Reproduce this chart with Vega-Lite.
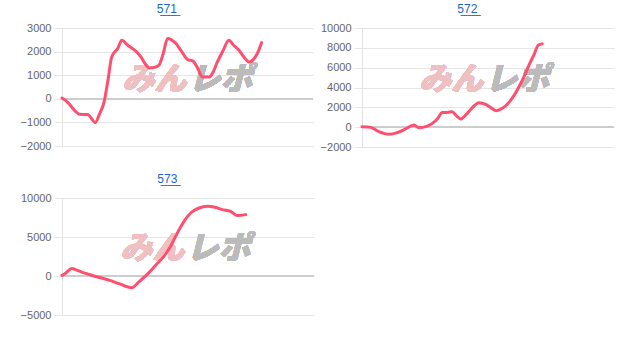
{
  "$schema": "https://vega.github.io/schema/vega-lite/v6.json",
  "padding": {"left": 20, "top": 3, "right": 0, "bottom": 0},
  "background": "white",
  "datasets": {
    "diffs": [
      {"machine": "571", "step": 0, "diff": 34},
      {"machine": "571", "step": 2.4, "diff": -160},
      {"machine": "571", "step": 5.0, "diff": -490},
      {"machine": "571", "step": 7.0, "diff": -660},
      {"machine": "571", "step": 10.3, "diff": -670},
      {"machine": "571", "step": 11.6, "diff": -810},
      {"machine": "571", "step": 13.2, "diff": -1010},
      {"machine": "571", "step": 15.0, "diff": -630},
      {"machine": "571", "step": 16.7, "diff": -160},
      {"machine": "571", "step": 18.3, "diff": 780},
      {"machine": "571", "step": 19.8, "diff": 1770},
      {"machine": "571", "step": 22.2, "diff": 2130},
      {"machine": "571", "step": 23.8, "diff": 2480},
      {"machine": "571", "step": 26.2, "diff": 2270},
      {"machine": "571", "step": 29.5, "diff": 2010},
      {"machine": "571", "step": 31.5, "diff": 1770},
      {"machine": "571", "step": 33.1, "diff": 1490},
      {"machine": "571", "step": 34.8, "diff": 1310},
      {"machine": "571", "step": 37.4, "diff": 1350},
      {"machine": "571", "step": 38.8, "diff": 1450},
      {"machine": "571", "step": 40.3, "diff": 1910},
      {"machine": "571", "step": 42.1, "diff": 2560},
      {"machine": "571", "step": 45.4, "diff": 2340},
      {"machine": "571", "step": 47.3, "diff": 2060},
      {"machine": "571", "step": 50.0, "diff": 1670},
      {"machine": "571", "step": 52.3, "diff": 1590},
      {"machine": "571", "step": 54.0, "diff": 1310},
      {"machine": "571", "step": 56.0, "diff": 920},
      {"machine": "571", "step": 58.6, "diff": 920},
      {"machine": "571", "step": 59.9, "diff": 1070},
      {"machine": "571", "step": 61.9, "diff": 1560},
      {"machine": "571", "step": 63.9, "diff": 1980},
      {"machine": "571", "step": 66.5, "diff": 2480},
      {"machine": "571", "step": 68.1, "diff": 2300},
      {"machine": "571", "step": 70.5, "diff": 2060},
      {"machine": "571", "step": 72.5, "diff": 1770},
      {"machine": "571", "step": 74.5, "diff": 1560},
      {"machine": "571", "step": 76.5, "diff": 1700},
      {"machine": "571", "step": 77.8, "diff": 1920},
      {"machine": "571", "step": 79.5, "diff": 2380},
      {"machine": "572", "step": 0, "diff": 50},
      {"machine": "572", "step": 3.5, "diff": -20},
      {"machine": "572", "step": 6.7, "diff": -450},
      {"machine": "572", "step": 10.7, "diff": -720},
      {"machine": "572", "step": 14.0, "diff": -550},
      {"machine": "572", "step": 17.3, "diff": -180},
      {"machine": "572", "step": 20.6, "diff": 220},
      {"machine": "572", "step": 22.6, "diff": -50},
      {"machine": "572", "step": 25.3, "diff": 50},
      {"machine": "572", "step": 27.9, "diff": 380},
      {"machine": "572", "step": 29.9, "diff": 830},
      {"machine": "572", "step": 31.9, "diff": 1490},
      {"machine": "572", "step": 33.8, "diff": 1490},
      {"machine": "572", "step": 35.8, "diff": 1560},
      {"machine": "572", "step": 37.4, "diff": 1160},
      {"machine": "572", "step": 39.2, "diff": 830},
      {"machine": "572", "step": 41.2, "diff": 1230},
      {"machine": "572", "step": 43.8, "diff": 1970},
      {"machine": "572", "step": 46.4, "diff": 2470},
      {"machine": "572", "step": 49.1, "diff": 2300},
      {"machine": "572", "step": 51.1, "diff": 1970},
      {"machine": "572", "step": 53.3, "diff": 1660},
      {"machine": "572", "step": 55.7, "diff": 1900},
      {"machine": "572", "step": 58.3, "diff": 2500},
      {"machine": "572", "step": 60.3, "diff": 3180},
      {"machine": "572", "step": 62.3, "diff": 4080},
      {"machine": "572", "step": 64.3, "diff": 5090},
      {"machine": "572", "step": 66.3, "diff": 6270},
      {"machine": "572", "step": 68.3, "diff": 7340},
      {"machine": "572", "step": 70.0, "diff": 8290},
      {"machine": "572", "step": 71.5, "diff": 8400},
      {"machine": "573", "step": 0, "diff": 80},
      {"machine": "573", "step": 1.7, "diff": 420},
      {"machine": "573", "step": 3.8, "diff": 970},
      {"machine": "573", "step": 6.1, "diff": 720},
      {"machine": "573", "step": 9.4, "diff": 330},
      {"machine": "573", "step": 12.7, "diff": 0},
      {"machine": "573", "step": 15.4, "diff": -220},
      {"machine": "573", "step": 18.7, "diff": -520},
      {"machine": "573", "step": 22.6, "diff": -980},
      {"machine": "573", "step": 27.7, "diff": -1500},
      {"machine": "573", "step": 30.6, "diff": -730},
      {"machine": "573", "step": 33.8, "diff": 200},
      {"machine": "573", "step": 37.2, "diff": 1390},
      {"machine": "573", "step": 40.5, "diff": 2540},
      {"machine": "573", "step": 43.1, "diff": 3820},
      {"machine": "573", "step": 45.8, "diff": 5530},
      {"machine": "573", "step": 48.4, "diff": 7010},
      {"machine": "573", "step": 51.1, "diff": 8080},
      {"machine": "573", "step": 54.4, "diff": 8720},
      {"machine": "573", "step": 57.7, "diff": 8930},
      {"machine": "573", "step": 60.3, "diff": 8850},
      {"machine": "573", "step": 63.6, "diff": 8510},
      {"machine": "573", "step": 66.9, "diff": 8290},
      {"machine": "573", "step": 69.6, "diff": 7750},
      {"machine": "573", "step": 72.9, "diff": 7870}
    ]
  },
  "spacing": 21,
  "vconcat": [
    {
      "spacing": 6,
      "hconcat": [
        {
          "title": "5\u03327\u03321\u0332",
          "width": 251,
          "height": 118,
          "data": {"name": "diffs"},
          "transform": [{"filter": "datum.machine === '571'"}],
          "resolve": {"axis": {"x": "independent", "y": "independent"}},
          "layer": [
            {
              "mark": {"type": "line", "color": "#ff4f6f", "strokeWidth": 3, "interpolate": "monotone", "opacity": 0},
              "encoding": {
                "x": {"field": "step", "type": "quantitative", "scale": {"domain": [0, 100], "nice": false}, "axis": null},
                "y": {"field": "diff", "type": "quantitative", "scale": {"domain": [-2000, 3000], "nice": false, "zero": false}, "axis": {"values": [-2000, -1000, 0, 1000, 2000, 3000], "labelColor": "#666666"}}
              }
            },
            {
              "mark": {"type": "rule", "color": "#cdcdcd", "strokeWidth": 1},
              "encoding": {"y": {"datum": 0, "type": "quantitative", "axis": null}}
            },
            {
              "mark": {"type": "text", "text": "みん", "align": "right", "baseline": "middle", "dx": -1, "font": "Noto Sans CJK JP", "fontWeight": 900, "fontStyle": "italic", "fontSize": 32, "fill": "#eec0c1"},
              "encoding": {"x": {"datum": 50, "type": "quantitative", "axis": null}, "y": {"datum": 780, "type": "quantitative", "axis": null}}
            },
            {
              "mark": {"type": "text", "text": "レポ", "align": "left", "baseline": "middle", "dx": 1, "font": "Noto Sans CJK JP", "fontWeight": 900, "fontStyle": "italic", "fontSize": 32, "fill": "#bbbbbb"},
              "encoding": {"x": {"datum": 50, "type": "quantitative", "axis": null}, "y": {"datum": 780, "type": "quantitative", "axis": null}}
            },
            {
              "mark": {"type": "line", "color": "#ff4f6f", "strokeWidth": 3, "interpolate": "monotone", "strokeCap": "round", "strokeJoin": "round"},
              "encoding": {
                "x": {"field": "step", "type": "quantitative", "axis": null},
                "y": {"field": "diff", "type": "quantitative", "axis": null}
              }
            }
          ]
        },
        {
          "title": "5\u03327\u03322\u0332",
          "width": 252,
          "height": 119,
          "data": {"name": "diffs"},
          "transform": [{"filter": "datum.machine === '572'"}],
          "resolve": {"axis": {"x": "independent", "y": "independent"}},
          "layer": [
            {
              "mark": {"type": "line", "color": "#ff4f6f", "strokeWidth": 3, "interpolate": "monotone", "opacity": 0},
              "encoding": {
                "x": {"field": "step", "type": "quantitative", "scale": {"domain": [0, 100], "nice": false}, "axis": null},
                "y": {"field": "diff", "type": "quantitative", "scale": {"domain": [-2000, 10000], "nice": false, "zero": false}, "axis": {"values": [-2000, 0, 2000, 4000, 6000, 8000, 10000], "labelColor": "#666666"}}
              }
            },
            {
              "mark": {"type": "rule", "color": "#cdcdcd", "strokeWidth": 1},
              "encoding": {"y": {"datum": 0, "type": "quantitative", "axis": null}}
            },
            {
              "mark": {"type": "text", "text": "みん", "align": "right", "baseline": "middle", "dx": -1, "font": "Noto Sans CJK JP", "fontWeight": 900, "fontStyle": "italic", "fontSize": 32, "fill": "#eec0c1"},
              "encoding": {"x": {"datum": 48.5, "type": "quantitative", "axis": null}, "y": {"datum": 4790, "type": "quantitative", "axis": null}}
            },
            {
              "mark": {"type": "text", "text": "レポ", "align": "left", "baseline": "middle", "dx": 1, "font": "Noto Sans CJK JP", "fontWeight": 900, "fontStyle": "italic", "fontSize": 32, "fill": "#bbbbbb"},
              "encoding": {"x": {"datum": 48.5, "type": "quantitative", "axis": null}, "y": {"datum": 4790, "type": "quantitative", "axis": null}}
            },
            {
              "mark": {"type": "line", "color": "#ff4f6f", "strokeWidth": 3, "interpolate": "monotone", "strokeCap": "round", "strokeJoin": "round"},
              "encoding": {
                "x": {"field": "step", "type": "quantitative", "axis": null},
                "y": {"field": "diff", "type": "quantitative", "axis": null}
              }
            }
          ]
        }
      ]
    },
    {
      "title": "5\u03327\u03323\u0332",
      "width": 252,
      "height": 117,
      "data": {"name": "diffs"},
      "transform": [{"filter": "datum.machine === '573'"}],
      "resolve": {"axis": {"x": "independent", "y": "independent"}},
      "layer": [
        {
          "mark": {"type": "line", "color": "#ff4f6f", "strokeWidth": 3, "interpolate": "monotone", "opacity": 0},
          "encoding": {
            "x": {"field": "step", "type": "quantitative", "scale": {"domain": [0, 100], "nice": false}, "axis": null},
            "y": {"field": "diff", "type": "quantitative", "scale": {"domain": [-5000, 10000], "nice": false, "zero": false}, "axis": {"values": [-5000, 0, 5000, 10000], "labelColor": "#666666"}}
          }
        },
        {
          "mark": {"type": "rule", "color": "#cdcdcd", "strokeWidth": 1},
          "encoding": {"y": {"datum": 0, "type": "quantitative", "axis": null}}
        },
        {
          "mark": {"type": "text", "text": "みん", "align": "right", "baseline": "middle", "dx": -1, "font": "Noto Sans CJK JP", "fontWeight": 900, "fontStyle": "italic", "fontSize": 32, "fill": "#eec0c1"},
          "encoding": {"x": {"datum": 49, "type": "quantitative", "axis": null}, "y": {"datum": 3400, "type": "quantitative", "axis": null}}
        },
        {
          "mark": {"type": "text", "text": "レポ", "align": "left", "baseline": "middle", "dx": 1, "font": "Noto Sans CJK JP", "fontWeight": 900, "fontStyle": "italic", "fontSize": 32, "fill": "#bbbbbb"},
          "encoding": {"x": {"datum": 49, "type": "quantitative", "axis": null}, "y": {"datum": 3400, "type": "quantitative", "axis": null}}
        },
        {
          "mark": {"type": "line", "color": "#ff4f6f", "strokeWidth": 3, "interpolate": "monotone", "strokeCap": "round", "strokeJoin": "round"},
          "encoding": {
            "x": {"field": "step", "type": "quantitative", "axis": null},
            "y": {"field": "diff", "type": "quantitative", "axis": null}
          }
        }
      ]
    }
  ],
  "config": {
    "view": {"stroke": null},
    "font": "Liberation Sans",
    "title": {"fontSize": 12, "fontWeight": "normal", "color": "#1a66cc", "frame": "bounds", "anchor": "middle", "offset": 6, "font": "Liberation Sans"},
    "axisY": {
      "title": null,
      "format": "d",
      "labelFont": "Liberation Sans",
      "labelFontSize": 11,
      "labelColor": "#666666",
      "labelPadding": 3,
      "tickSize": 8,
      "tickColor": "#e6e6e6",
      "gridColor": "#e6e6e6",
      "gridWidth": 1,
      "grid": true,
      "domainColor": "#e3e3e3",
      "labelFlush": false
    }
  }
}
